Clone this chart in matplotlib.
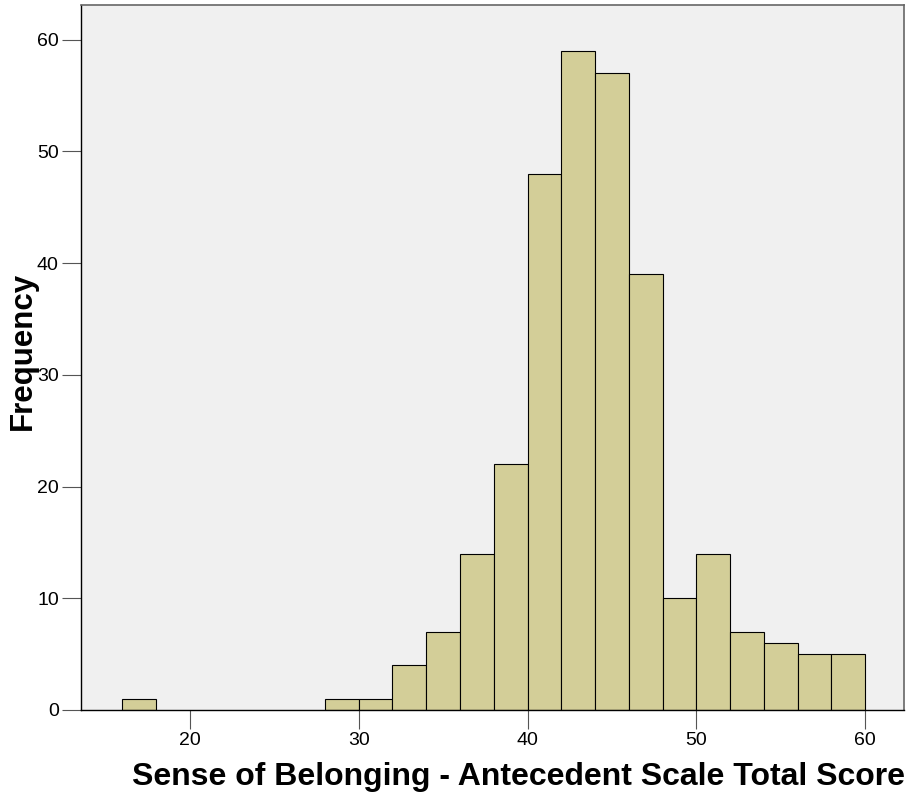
import matplotlib
matplotlib.use("Agg")
import matplotlib.pyplot as plt
import numpy as np

plt.rcParams['font.family'] = ['Liberation Sans', 'DejaVu Sans']

bin_edges = [16, 18, 20, 22, 24, 26, 28, 30, 32, 34, 36, 38, 40, 42, 44, 46, 48, 50, 52, 54, 56, 58, 60]
counts = [1, 0, 0, 0, 0, 0, 1, 1, 4, 7, 14, 22, 48, 59, 57, 39, 10, 14, 7, 6, 5, 5]
xticks = [20, 30, 40, 50, 60]
yticks = [0, 10, 20, 30, 40, 50, 60]

fig = plt.figure(figsize=(9.09, 8.02), dpi=100)
ax = fig.add_axes([81/909, 1 - 710/802, (904-81)/909, (710-5)/802])
ax.set_facecolor('#f0f0f0')

edges = np.array(bin_edges)
lefts = edges[:-1]
widths = np.diff(edges)
for l, w, c in zip(lefts, widths, counts):
    if c > 0:
        ax.bar(l, c, width=w, align='edge', color='#d3ce98', edgecolor='black', linewidth=0.8)

ax.set_xlim(13.55, 62.3)
ax.set_ylim(0, 63.1)
ax.set_xticks(xticks)
ax.set_yticks(yticks)
ax.tick_params(axis='both', direction='out', length=14, width=0.8, colors='#555555', labelcolor='black', labelsize=14, pad=2)
for s in ['left', 'bottom']:
    ax.spines[s].set_color('black')
    ax.spines[s].set_linewidth(1.0)
for s in ['top', 'right']:
    ax.spines[s].set_color('#666666')
    ax.spines[s].set_linewidth(1.2)

fig.text(23/909, 1 - 351/802, 'Frequency', fontsize=22.5, fontweight='bold', rotation=90,
         ha='center', va='center')
fig.text(905/909, 1 - 777/802, 'Sense of Belonging - Antecedent Scale Total Score', fontsize=23,
         fontweight='bold', ha='right', va='center')

fig.savefig('out.png', dpi=100)
